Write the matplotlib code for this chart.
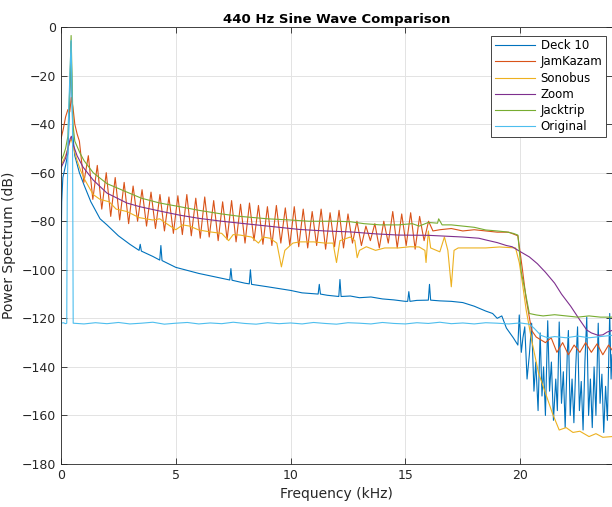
import matplotlib
matplotlib.use("Agg")
import matplotlib.pyplot as plt

# ---------------- data ----------------
deck10_f = [0, 0.03, 0.08, 0.2, 0.3, 0.38, 0.44, 0.47, 0.52, 0.6, 0.8, 1.0, 1.3, 1.7, 2.0, 2.5, 3.0,
            3.4, 3.45, 3.5, 4.0, 4.3, 4.35, 4.4, 5.0, 6.0, 7.0, 7.35, 7.4, 7.45, 8.0, 8.2, 8.25, 8.3,
            9.0, 10.0, 10.5, 11.2, 11.25, 11.3, 11.6, 12.1, 12.15, 12.2, 12.6, 13.0, 13.5, 14.0, 14.5,
            15.0, 15.1, 15.15, 15.2, 15.5, 16.0, 16.05, 16.1, 16.5, 17.0, 17.5, 18.0, 18.5, 18.8, 19.0,
            19.2, 19.4, 19.7, 19.9,
            19.96, 20.05, 20.12, 20.2, 20.3, 20.4, 20.5, 20.6, 20.68, 20.78, 20.87, 20.95, 21.02, 21.1,
            21.2, 21.28, 21.36, 21.45, 21.55, 21.62, 21.7, 21.8, 21.88, 21.96, 22.05, 22.1, 22.18, 22.26,
            22.34, 22.42, 22.5, 22.58, 22.66, 22.74, 22.82, 22.9, 22.98, 23.06, 23.14, 23.22, 23.3, 23.4,
            23.48, 23.56, 23.64, 23.72, 23.8, 23.9, 23.96, 24.0]
deck10_db = [-96, -72, -62, -57, -52, -30, -6, -25, -45, -53, -60, -65, -72, -79, -81.5, -86, -89.5,
             -92, -89.5, -92.3, -94.5, -96, -90, -96.2, -99, -101.5, -103.5, -104.2, -99.5, -104.3, -105.5, -105.8, -100, -106,
             -107, -108.5, -109.5, -110, -106, -110, -110.5, -111, -104, -111, -110.8, -111.5, -111.2, -112, -112.4,
             -113, -113, -109, -113, -112.6, -112.5, -106, -112.5, -112.8, -113, -113.5, -115, -117, -118, -120,
             -119, -124, -128, -131,
             -118.6, -134, -128, -123.5, -145, -135, -122, -150, -138, -158, -126, -152, -140, -160,
             -121, -150, -138, -162, -145, -158, -121.5, -155, -142, -165, -135, -125, -160, -145,
             -163, -140, -123.5, -158, -146, -166, -138, -119.5, -160, -145, -165, -140, -160, -122,
             -155, -143, -167, -148, -162, -118, -145, -135]

jam_f = [0, 0.1, 0.2, 0.3, 0.38, 0.45, 0.52, 0.6, 0.7,
         0.80, 0.995, 1.19, 1.385, 1.58, 1.775, 1.97, 2.165, 2.36, 2.555, 2.75, 2.945, 3.14, 3.335,
         3.53, 3.725, 3.92, 4.115, 4.31, 4.505, 4.70, 4.895, 5.09, 5.285, 5.48, 5.675, 5.87, 6.065,
         6.26, 6.455, 6.65, 6.845, 7.04, 7.235, 7.43, 7.625, 7.82, 8.015, 8.21, 8.405, 8.60, 8.795,
         8.99, 9.185, 9.38, 9.575, 9.77, 9.965, 10.16, 10.355, 10.55, 10.745, 10.94, 11.135, 11.33,
         11.525, 11.72, 11.915, 12.11, 12.305, 12.50, 12.695, 12.89, 13.085, 13.28, 13.475, 13.67,
         13.865, 14.06, 14.255, 14.45, 14.645, 14.84, 15.035, 15.23, 15.425, 15.62, 15.815, 16.01, 16.2,
         16.5, 17.0, 17.5, 18.0, 18.5, 19.0, 19.5, 19.9, 20.1, 20.26, 20.5, 20.7, 21.1, 21.35, 21.6,
         21.85, 22.1, 22.35, 22.6, 22.85, 23.1, 23.35, 23.6, 23.85, 24.0]
jam_db = [-46, -42, -37, -34, -35, -29, -33, -40, -44,
          -47, -64, -53, -71, -57, -75, -60, -78, -62, -79.5, -64, -81, -65.5, -80,
          -67, -82, -68, -83, -69, -84, -70, -85, -69.5, -85.5, -69, -86, -70.5, -87,
          -70, -86.5, -71.5, -88, -72, -87.5, -71.5, -88.5, -73, -89, -72.5, -88, -73.5, -89.5,
          -74, -90, -73.5, -89, -74.5, -90, -74, -90.5, -75, -91, -76, -90, -75,
          -91.5, -76.5, -90.5, -75.5, -91, -77, -89, -80, -90, -82, -88, -81,
          -91, -80, -89, -76, -91, -77, -90, -76.5, -91.5, -78, -88, -80, -84,
          -83.5, -83, -84, -83.5, -84, -84.5, -84.5, -86, -100, -112, -125, -127.7, -130, -128, -134,
          -130, -135, -131, -134, -130, -134, -130.5, -135, -131, -133]

sono_f = [0, 0.1, 0.2, 0.3, 0.4, 0.45, 0.55, 0.7, 0.85, 1.04, 1.4, 1.7, 2.1, 2.4, 2.87, 3.4, 4.0,
          4.3, 4.6, 5.0, 5.3, 5.6, 6.0, 6.5, 7.0, 7.3, 7.5, 7.8, 8.3, 8.6, 8.8, 9.1, 9.4, 9.6, 9.75,
          10.1, 10.4, 11.0, 11.5, 11.85, 12.0, 12.15, 12.6, 12.8, 12.9, 13.0, 13.3, 13.7, 14.1, 14.7,
          15.2, 15.6, 15.85, 15.9, 16.0, 16.1, 16.5, 16.7, 16.85, 17.0, 17.12, 17.3, 17.65, 18.5,
          19.1, 19.8, 19.96, 20.1, 20.26, 20.5, 20.8, 21.1, 21.4, 21.7, 22.0, 22.3, 22.6, 23.0, 23.3,
          23.6, 24.0]
sono_db = [-57, -55, -53, -50, -47, -46, -50, -55, -59, -63, -69, -71, -72, -75, -76, -78.5, -79.5,
           -79, -81, -83.5, -81.5, -82, -83.6, -84.4, -85, -88, -85.5, -85.7, -86.5, -89, -86.5, -87, -89, -98.8, -92,
           -89, -88.5, -88.5, -89, -89, -97, -88, -86.5, -88, -95, -92, -90.5, -92, -91, -91,
           -90.5, -90.6, -92, -97, -84, -91, -92.6, -86.5, -92, -107, -92, -91, -91, -91,
           -90.6, -91, -97, -105.6, -116.5, -129, -142.5, -150.7, -159, -166, -165, -167, -166.5, -168.7, -167.5,
           -169, -168.7]

zoom_f = [0, 0.1, 0.2, 0.3, 0.4, 0.45, 0.55, 0.7, 0.96, 1.4, 2.0, 2.87, 3.43, 4.3, 5.17, 6.0, 7.0,
          7.8, 9.0, 10.4, 11.5, 12.6, 13.7, 14.7, 16.0, 17.5, 18.2, 18.5, 19.0, 19.4, 19.65, 20.0,
          20.4, 20.75, 21.1, 21.5, 21.8, 22.2, 22.6, 22.9, 23.1, 23.4, 23.6, 23.8, 24.0]
zoom_db = [-58, -56, -54, -50, -46, -45, -49, -53, -57.7, -63, -68.4, -72.5, -74, -75.8, -77.5, -78.8, -80,
           -80.8, -82, -83.4, -84, -84.4, -85.2, -85.7, -85.8, -86.5, -87, -87.7, -88.8, -90, -90.5, -92.5,
           -94.7, -97.5, -101, -105.5, -110, -115, -120.7, -124.8, -126, -127, -126.8, -125.6, -125]

jack_f = [0, 0.1, 0.2, 0.3, 0.38, 0.44, 0.48, 0.52, 0.6, 0.83, 1.0, 1.4, 2.0, 2.87, 3.5, 4.3, 5.17,
          6.0, 7.0, 7.8, 9.0, 10.0, 10.8, 12.0, 12.6, 13.2, 13.9, 14.7, 15.3, 15.6, 16.0, 16.4, 16.45,
          16.6, 17.0, 17.5, 18.0, 18.5, 19.0, 19.4, 19.7, 19.9, 20.05, 20.2, 20.4, 20.7, 21.0, 21.5,
          22.0, 22.5, 23.0, 23.5, 24.0]
jack_db = [-55, -53, -50, -45, -25, -3.5, -20, -40, -47, -52, -55, -60, -64.5, -68, -70.5, -72.5, -74,
           -75.5, -77, -78, -79, -79.5, -80, -80, -80.2, -81, -81.5, -81.5, -81, -82, -80.5, -80.8, -79,
           -81.5, -81.5, -82, -82.5, -83.6, -84, -84.4, -85, -85.7, -101, -108, -118, -118.6, -119, -118.5,
           -119, -119.5, -119, -119.5, -119.5]

orig_f = [0, 0.1, 0.2, 0.25, 0.27, 0.33, 0.44, 0.5, 0.53, 1.0, 1.5, 2.0, 2.5, 3.0, 3.5, 4.0, 4.5,
          5.0, 5.5, 6.0, 6.5, 7.0, 7.5, 8.0, 8.5, 9.0, 9.5, 10.0, 10.5, 11.0, 11.5, 12.0, 12.5, 13.0,
          13.5, 14.0, 14.5, 15.0, 15.5, 16.0, 16.5, 17.0, 17.5, 18.0, 18.5, 19.0, 19.5, 20.0, 20.4,
          20.6, 20.9, 21.2, 21.5, 22.0, 22.5, 23.0, 23.5, 24.0]
orig_db = [-122, -121.8, -122.2, -122, -70, -35, -5.5, -40, -122, -122.3, -121.8, -122.2, -121.7, -122.3, -122, -121.6, -122.4,
           -122, -121.7, -122.3, -121.9, -122.2, -121.6, -122.1, -122.4, -121.8, -122.2, -121.9, -122.3, -121.7, -122.1, -122.4, -121.8, -122,
           -122.3, -121.7, -122.1, -122.3, -121.8, -122.1, -121.6, -122.2, -121.9, -122.3, -121.8, -122, -122.3, -121.9, -122.4,
           -124, -127, -128, -127.5, -128, -127.3, -128, -127.5, -127]

series = [
    ("Deck 10", deck10_f, deck10_db, "#0072BD"),
    ("JamKazam", jam_f, jam_db, "#D95319"),
    ("Sonobus", sono_f, sono_db, "#EDB120"),
    ("Zoom", zoom_f, zoom_db, "#7E2F8E"),
    ("Jacktrip", jack_f, jack_db, "#77AC30"),
    ("Original", orig_f, orig_db, "#4DBEEE"),
]
x_ticks = [0, 5, 10, 15, 20]
y_ticks = [0, -20, -40, -60, -80, -100, -120, -140, -160, -180]

# ---------------- figure ----------------
plt.rcParams['font.family'] = ['DejaVu Sans']
fig = plt.figure(figsize=(6.12, 5.07), dpi=100)
ax = fig.add_axes([0.0997, 0.0848, 0.9003, 0.8619])

for name, f, db, c in series:
    ax.plot(f, db, color=c, lw=0.8, label=name)

ax.set_xlim(0, 24)
ax.set_ylim(-180, 0)
ax.set_xticks(x_ticks)
ax.set_yticks(y_ticks)
ax.grid(True, color='#e3e3e3', lw=0.7)
ax.set_axisbelow(True)
ax.tick_params(direction='in', top=True, right=True, length=4, width=0.6,
               labelsize=9, colors='#262626')
for s in ax.spines.values():
    s.set_color('#262626')
    s.set_linewidth(0.6)

ax.set_xlabel('Frequency (kHz)', fontsize=10, color='#262626')
ax.set_ylabel('Power Spectrum (dB)', fontsize=10, color='#262626')
ax.set_title('440 Hz Sine Wave Comparison', fontsize=9.5, fontweight='bold', pad=3)

leg = ax.legend(loc='upper right', bbox_to_anchor=(0.989, 0.98), fontsize=8.5,
                frameon=True, fancybox=False, edgecolor='#262626', framealpha=1,
                borderpad=0.3, labelspacing=0.27, handlelength=3.4, handletextpad=0.5,
                borderaxespad=0)
leg.get_frame().set_linewidth(0.6)

fig.savefig('out.png', dpi=100)
